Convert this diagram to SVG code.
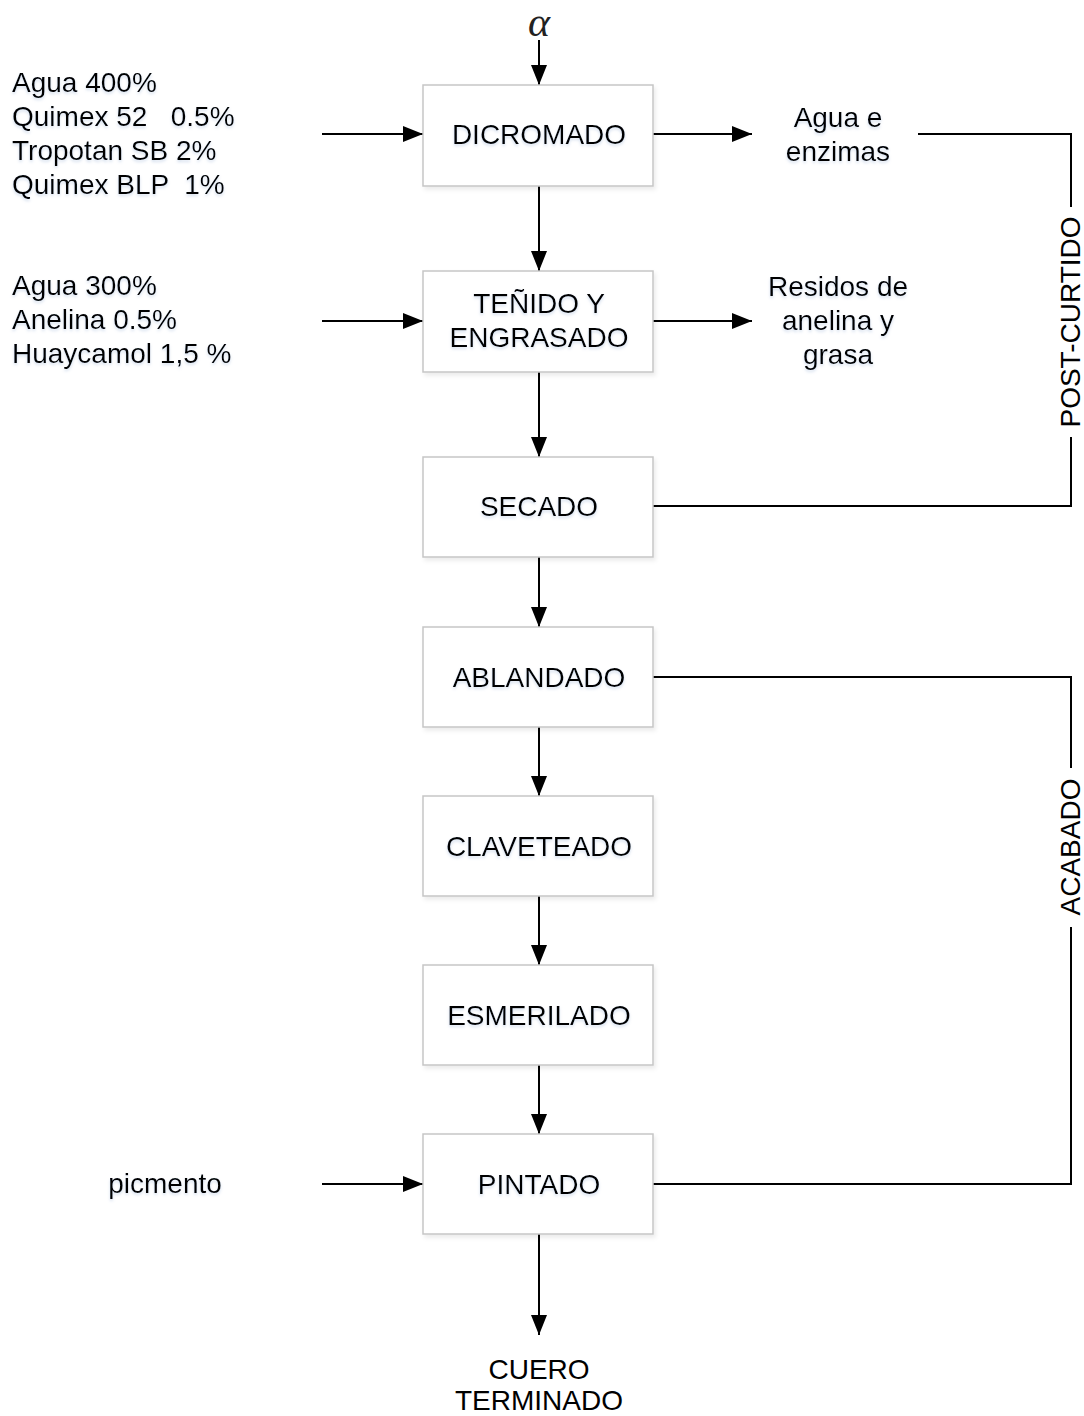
<svg xmlns="http://www.w3.org/2000/svg" width="1084" height="1416" viewBox="0 0 1084 1416">
<style>
.box{fill:#fff;stroke:#c6c6c6;stroke-width:1.5}
.t{font-family:"Liberation Sans",Arial,sans-serif;font-size:28px;fill:#000}
.c{text-anchor:middle}
.ln{fill:none;stroke:#000;stroke-width:2}
</style>
<defs>
<marker id="ah" markerUnits="userSpaceOnUse" markerWidth="20" markerHeight="16" refX="20" refY="8" orient="auto">
<path d="M0,0 L20,8 L0,16 Z" fill="#000"/>
</marker>
<filter id="glow" x="-10%" y="-30%" width="120%" height="160%">
<feDropShadow dx="0" dy="2" stdDeviation="1.5" flood-color="#9fb6d8" flood-opacity="0.45"/>
</filter>
<filter id="bsh" x="-5%" y="-5%" width="112%" height="115%">
<feDropShadow dx="2" dy="3" stdDeviation="2" flood-color="#000" flood-opacity="0.08"/>
</filter>
</defs>

<g id="connectors">
<line class="ln" x1="539" y1="40" x2="539" y2="85" marker-end="url(#ah)"/>
<line class="ln" x1="539" y1="186" x2="539" y2="271" marker-end="url(#ah)"/>
<line class="ln" x1="539" y1="372" x2="539" y2="457" marker-end="url(#ah)"/>
<line class="ln" x1="539" y1="557" x2="539" y2="627" marker-end="url(#ah)"/>
<line class="ln" x1="539" y1="727" x2="539" y2="796" marker-end="url(#ah)"/>
<line class="ln" x1="539" y1="896" x2="539" y2="965" marker-end="url(#ah)"/>
<line class="ln" x1="539" y1="1065" x2="539" y2="1134" marker-end="url(#ah)"/>
<line class="ln" x1="539" y1="1234" x2="539" y2="1335" marker-end="url(#ah)"/>
<line class="ln" x1="322" y1="134" x2="423" y2="134" marker-end="url(#ah)"/>
<line class="ln" x1="322" y1="321" x2="423" y2="321" marker-end="url(#ah)"/>
<line class="ln" x1="322" y1="1184" x2="423" y2="1184" marker-end="url(#ah)"/>
<line class="ln" x1="653" y1="134" x2="752" y2="134" marker-end="url(#ah)"/>
<line class="ln" x1="653" y1="321" x2="752" y2="321" marker-end="url(#ah)"/>
<polyline class="ln" points="918,134 1071,134 1071,207"/>
<polyline class="ln" points="1071,437 1071,506 653,506"/>
<polyline class="ln" points="653,677 1071,677 1071,768"/>
<polyline class="ln" points="1071,927 1071,1184 653,1184"/>
</g>

<g id="alpha"><text x="539" y="36" font-family="'Liberation Serif','DejaVu Serif',serif" font-style="italic" font-size="42" text-anchor="middle" fill="#222">α</text></g>

<g id="in1" class="t" filter="url(#glow)">
<text x="12" y="92">Agua 400%</text>
<text x="12" y="126" xml:space="preserve">Quimex 52   0.5%</text>
<text x="12" y="160">Tropotan SB 2%</text>
<text x="12" y="194" xml:space="preserve">Quimex BLP  1%</text>
</g>
<g id="in2" class="t" filter="url(#glow)">
<text x="12" y="295">Agua 300%</text>
<text x="12" y="329">Anelina 0.5%</text>
<text x="12" y="363">Huaycamol 1,5 %</text>
</g>
<g id="in3" class="t c" filter="url(#glow)"><text x="165" y="1193">picmento</text></g>

<g id="out1" class="t c" filter="url(#glow)">
<text x="838" y="127">Agua e</text>
<text x="838" y="161">enzimas</text>
</g>
<g id="out2" class="t c" filter="url(#glow)">
<text x="838" y="296">Residos de</text>
<text x="838" y="330">anelina y</text>
<text x="838" y="364">grasa</text>
</g>

<g id="dicromado"><rect class="box" x="423" y="85" width="230" height="101" filter="url(#bsh)"/><text class="t c" x="539" y="144" filter="url(#glow)">DICROMADO</text></g>
<g id="tenido"><rect class="box" x="423" y="271" width="230" height="101" filter="url(#bsh)"/><text class="t c" x="539" y="313" filter="url(#glow)">TEÑIDO Y</text><text class="t c" x="539" y="347" filter="url(#glow)">ENGRASADO</text></g>
<g id="secado"><rect class="box" x="423" y="457" width="230" height="100" filter="url(#bsh)"/><text class="t c" x="539" y="516" filter="url(#glow)">SECADO</text></g>
<g id="ablandado"><rect class="box" x="423" y="627" width="230" height="100" filter="url(#bsh)"/><text class="t c" x="539" y="687" filter="url(#glow)">ABLANDADO</text></g>
<g id="claveteado"><rect class="box" x="423" y="796" width="230" height="100" filter="url(#bsh)"/><text class="t c" x="539" y="856" filter="url(#glow)">CLAVETEADO</text></g>
<g id="esmerilado"><rect class="box" x="423" y="965" width="230" height="100" filter="url(#bsh)"/><text class="t c" x="539" y="1025" filter="url(#glow)">ESMERILADO</text></g>
<g id="pintado"><rect class="box" x="423" y="1134" width="230" height="100" filter="url(#bsh)"/><text class="t c" x="539" y="1194" filter="url(#glow)">PINTADO</text></g>

<g id="cuero" class="t c">
<text x="539" y="1379">CUERO</text>
<text x="539" y="1410">TERMINADO</text>
</g>

<g id="post-curtido"><text class="t c" transform="translate(1080,322) rotate(-90)">POST-CURTIDO</text></g>
<g id="acabado"><text class="t c" transform="translate(1080,847) rotate(-90)">ACABADO</text></g>
</svg>
